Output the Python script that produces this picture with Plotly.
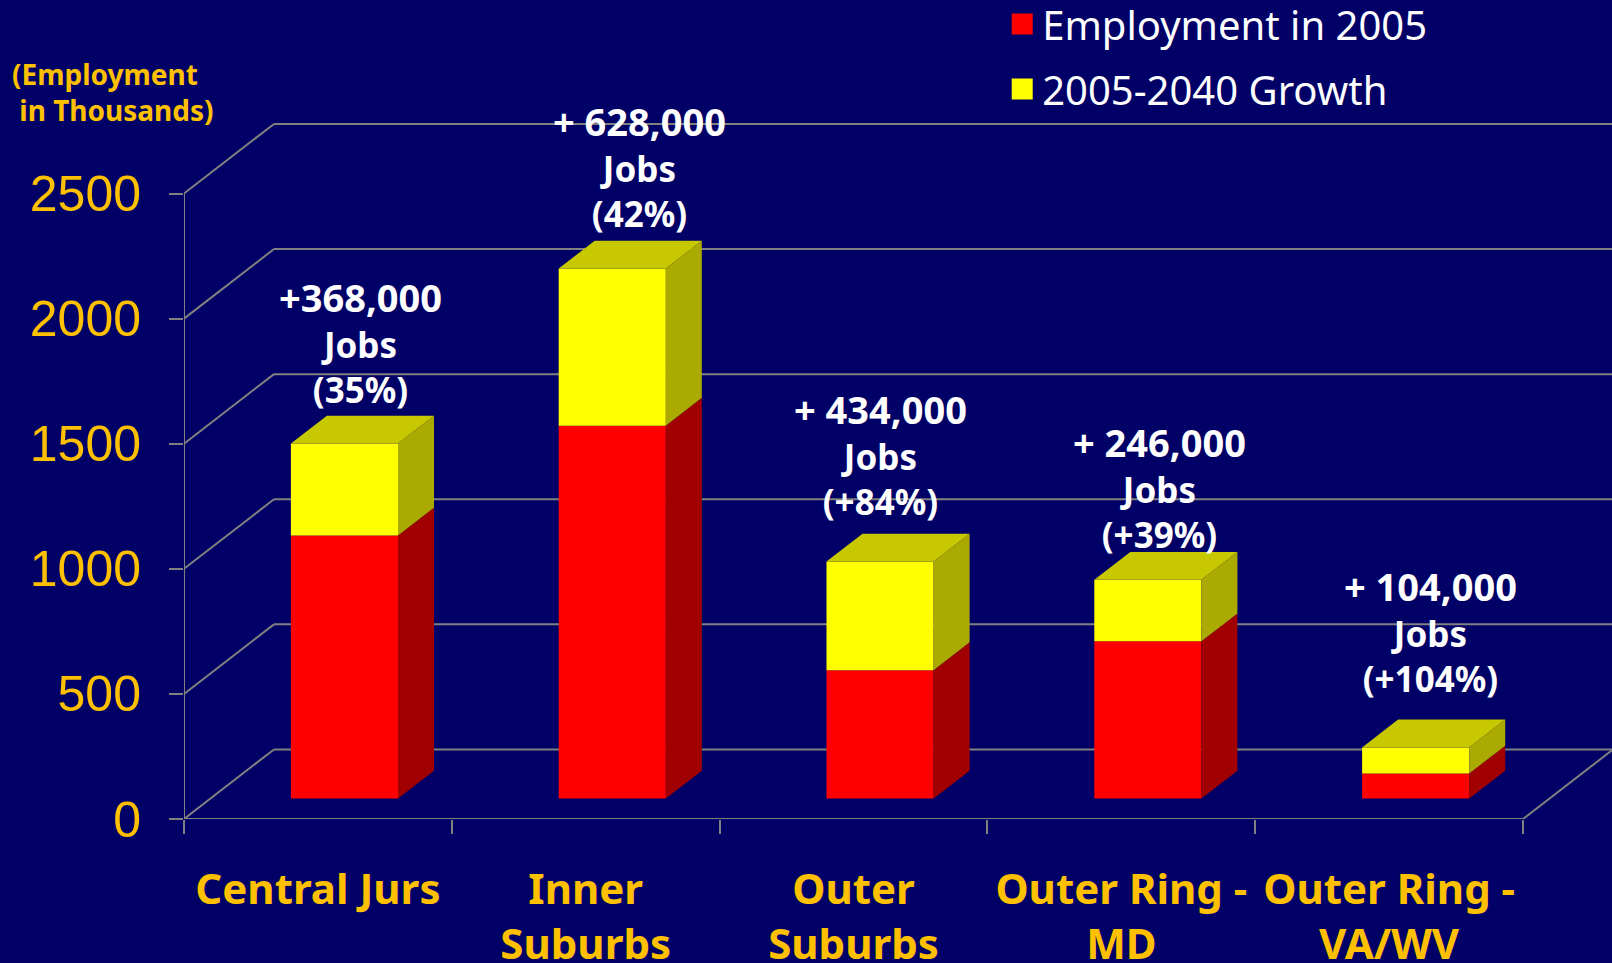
import plotly.graph_objects as go

# ---- data ----
categories = ["Central Jurs", "Inner<br>Suburbs", "Outer<br>Suburbs", "Outer Ring -<br>MD", "Outer Ring -<br>VA/WV"]
employment_2005 = [1051, 1490, 513, 628, 100]
growth_2005_2040 = [368, 628, 434, 246, 104]
series_names = ["Employment in 2005", "2005-2040 Growth"]
y_ticks = [0, 500, 1000, 1500, 2000, 2500]
label_first = ["+368,000", "+ 628,000", "+ 434,000", "+ 246,000", "+ 104,000"]
label_last = ["(35%)", "(42%)", "(+84%)", "(+39%)", "(+104%)"]
label_x = [0.658, 1.701, 2.599, 3.644, 4.655]
label_y = [1905, 2608, 1458, 1328, 752]

# ---- styles / projection ----
BG = "#000066"; GREY = "#808080"; GOLD = "#FFC000"
RED = "#FF0000"; RED_SIDE = "#A00000"
YEL = "#FFFF00"; YEL_SIDE = "#AAAA00"; YEL_TOP = "#C8C800"
DX, DY = 0.336, 278          # full depth of the chart floor, in axis units
D0, DB = 0.295, 0.40         # bar front depth and bar depth, as fractions
BAR_W = 0.4
FONT = "Noto Sans"
n = len(categories)
x_max = (1612 - 183.5) / 267.9
y_max = 819 / 0.2502


def project(x, y, depth):
    return x + depth * DX, y + depth * DY


centers = [i + 0.5 + D0 * DX for i in range(n)]
base = D0 * DY

fig = go.Figure()
fig.add_bar(x=centers, y=employment_2005, base=[base] * n, width=BAR_W,
            marker=dict(color=RED, line=dict(width=0)), showlegend=False, xaxis="x", yaxis="y")
totals = [a + b for a, b in zip(employment_2005, growth_2005_2040)]
fig.add_bar(x=centers, y=growth_2005_2040, base=[base + v for v in employment_2005], width=BAR_W,
            marker=dict(color=YEL, line=dict(width=0)), showlegend=False, xaxis="x", yaxis="y")


def polygons(quads, color):
    xs, ys = [], []
    for q in quads:
        xs += [p[0] for p in q] + [q[0][0], None]
        ys += [p[1] for p in q] + [q[0][1], None]
    fig.add_scatter(x=xs, y=ys, mode="lines", fill="toself", fillcolor=color,
                    line=dict(width=0, color=color), hoverinfo="skip", showlegend=False)


def side(i, lo, hi):
    r = i + 0.5 + BAR_W / 2
    return [project(r, lo, D0), project(r, hi, D0), project(r, hi, D0 + DB), project(r, lo, D0 + DB)]


def top(i, h):
    l, r = i + 0.5 - BAR_W / 2, i + 0.5 + BAR_W / 2
    return [project(l, h, D0), project(r, h, D0), project(r, h, D0 + DB), project(l, h, D0 + DB)]


polygons([side(i, 0, employment_2005[i]) for i in range(n)], RED_SIDE)
polygons([side(i, employment_2005[i], totals[i]) for i in range(n)], YEL_SIDE)
polygons([top(i, totals[i]) for i in range(n)], YEL_TOP)

# legend entries
for name, color, group in zip(series_names, [RED, YEL], ["a", "b"]):
    fig.add_scatter(x=[None], y=[None], mode="markers", name=name, legendgroup=group,
                    marker=dict(symbol="square", size=16, color=color, line=dict(width=5, color=color)))

# chart frame: gridlines on the wall and floor
shapes = []
line = dict(color=GREY, width=2)
for v in y_ticks:
    shapes.append(dict(type="line", xref="x", yref="y", x0=0, y0=v, x1=DX, y1=v + DY, line=line, layer="below"))
    shapes.append(dict(type="line", xref="x", yref="y", x0=DX, y0=v + DY, x1=x_max, y1=v + DY, line=line, layer="below"))
shapes.append(dict(type="line", xref="x", yref="y", x0=0, y0=0, x1=0, y1=y_ticks[-1], line=line, layer="below"))
shapes.append(dict(type="line", xref="x", yref="y", x0=0, y0=0, x1=n, y1=0, line=line, layer="below"))
shapes.append(dict(type="line", xref="x", yref="y", x0=n, y0=0, x1=n + DX, y1=DY, line=line, layer="below"))

annotations = [
    dict(x=lx, y=ly, xref="x", yref="y", text=f'<span style="font-size:38px">{a}</span><br>Jobs<br>{b}',
         showarrow=False, yanchor="middle", align="center",
         font=dict(family=FONT, size=35, color="white", weight="bold"))
    for lx, ly, a, b in zip(label_x, label_y, label_first, label_last)
]
annotations.append(dict(xref="paper", yref="paper", x=(9 - 183.5) / 1428.5, y=(819 - 92) / 819, xanchor="left", yanchor="middle",
                        align="left", showarrow=False, text="(Employment<br>&nbsp;in Thousands)",
                        font=dict(family=FONT, size=28, color=GOLD, weight="bold")))

fig.update_layout(
    width=1612, height=963, autosize=False,
    margin=dict(l=183.5, r=0, t=0, b=144, pad=0, autoexpand=False),
    paper_bgcolor=BG, plot_bgcolor=BG, barmode="overlay",
    shapes=shapes, annotations=annotations,
    legend=dict(x=(1002 - 183.5) / 1428.5, y=1.0105, yanchor="top", xanchor="left",
                bgcolor="rgba(0,0,0,0)", tracegroupgap=10, itemwidth=30,
                font=dict(family=FONT, size=40, color="white")),
    xaxis=dict(range=[0, x_max], tickmode="array", tickvals=list(range(n + 1)), ticktext=[""] * (n + 1),
               ticks="outside", ticklen=14, tickwidth=2, tickcolor=GREY, showgrid=False, zeroline=False, showline=False,
               automargin=False),
    xaxis2=dict(range=[0, x_max], overlaying="x", side="bottom", anchor="y", tickmode="array",
                tickvals=[i + 0.5 for i in range(n)], ticktext=categories, ticks="", showgrid=False,
                zeroline=False, showline=False, ticklabelstandoff=42, tickangle=0, automargin=False,
                tickfont=dict(family=FONT, size=42, color=GOLD, weight="bold")),
    yaxis=dict(range=[0, y_max], tickmode="array", tickvals=y_ticks, ticks="outside", ticklen=14, tickwidth=2,
               tickcolor=GREY, showgrid=False, zeroline=False, showline=False, ticklabelstandoff=18, automargin=False,
               tickfont=dict(family="Liberation Sans", size=50, color=GOLD)),
)
# an invisible trace keeps the label axis alive
fig.add_scatter(x=[0.5], y=[0], xaxis="x2", yaxis="y", mode="markers", marker=dict(opacity=0), showlegend=False, hoverinfo="skip")

fig.write_html("out.html", post_script="document.body.style.margin='0';document.body.style.overflow='hidden';",
               config={"displayModeBar": False})
